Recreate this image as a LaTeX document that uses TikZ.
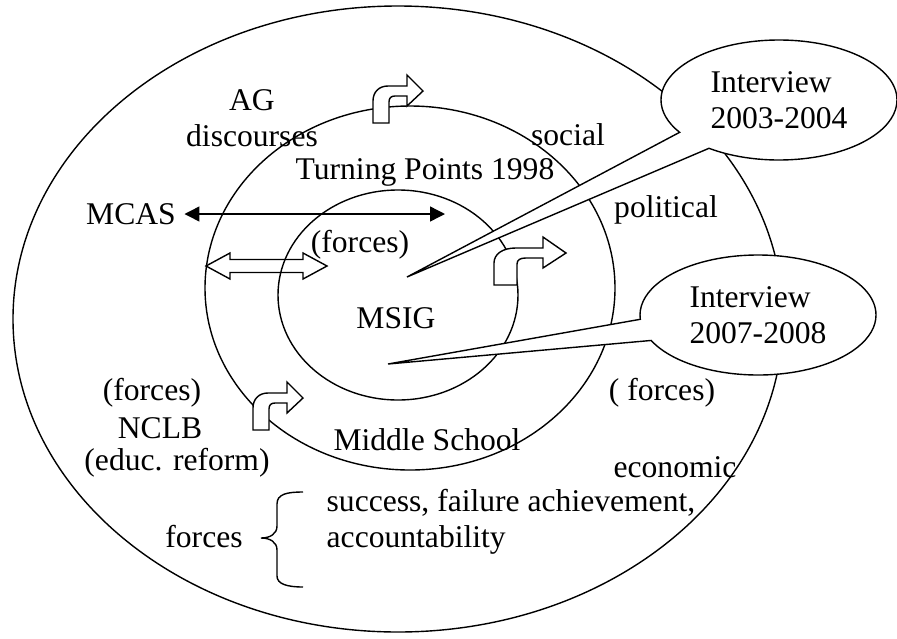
\documentclass[tikz,border=0pt]{standalone}
\usepackage{fontspec}
\setmainfont{Liberation Serif}
\usetikzlibrary{shapes.callouts, arrows.meta}

\begin{document}
\begin{tikzpicture}[
    x=1pt, y=-1pt,
    line width=1.4pt,
    every node/.style={font=\fontsize{31.6}{36}\selectfont, inner sep=0pt},
    bubble/.style={ellipse callout, draw, fill=white, callout pointer arc=21, minimum width=236pt, minimum height=120pt, align=left},
    blacktip/.style={{Triangle[length=15pt,width=15pt]}-{Triangle[length=15pt,width=15pt]}},
    bentarrow/.pic={
        \draw[fill=white, line join=miter] (0,0) -- (0,-22) .. controls (0,-31) and (6,-37) .. (15,-37) -- (34,-37) -- (34,-48) -- (50,-32) -- (34,-17) -- (34,-27) -- (22,-27) .. controls (18,-27) and (16,-25) .. (16,-21) -- (16,0) -- cycle;
    }
]
\useasboundingbox (0,0) rectangle (897,638);

% rings
\draw (398,319) ellipse [x radius=385, y radius=313];
\draw (410,288) ellipse [x radius=205, y radius=182];
\draw (398,295) ellipse [x radius=120, y radius=105];

% bent arrows
\pic at (373,123) {bentarrow};
\pic[xscale=1.44] at (494,285) {bentarrow};
\pic at (253,430) {bentarrow};

% double arrow
\draw[line join=miter] (206,266) -- (230,253) -- (230,259.5) -- (303,259.5) -- (303,253) -- (327,266) -- (303,279) -- (303,272.5) -- (230,272.5) -- (230,279) -- cycle;

% labels
\node[align=center] (ag) at (252,118) {AG\\discourses};
\node (social) at (568,135) {social};
\node (turning) at (425,172) {Turning Points 1998};
\node (mcas) at (131,214) {MCAS};
\node (political) at (666,210) {political};
\node (forcesin) at (360,245) {(forces)};
\node (msig) at (396,318) {MSIG};
\node (forcesright) at (662,393) {( forces)};
\node (forcesleft) at (152,393) {(forces)};
\node (nclb) at (160,428) {NCLB};
\node (reform) at (177,463) {(educ. reform)};
\node (school) at (427,440) {Middle School};
\node (economic) at (675,467) {economic};
\node[anchor=west, align=left] (success) at (326,522) {success, failure achievement,\\accountability};
\node (forces) at (204,537) {forces};

% MCAS arrow
\coordinate (mcasend) at (445,214);
\draw[blacktip] ([xshift=8pt]mcas.east) -- (mcasend);

% brace
\draw (303,492) .. controls (287,492) and (277,494) .. (277,504) -- (277,526) .. controls (277,534) and (270,538) .. (261,538) .. controls (270,538) and (277,542) .. (277,550) -- (277,576) .. controls (277,584) and (287,587) .. (303,587);

% interviews
\node[bubble, callout absolute pointer={(407,277)}] (iv1) at (779,100) {Interview\\2003-2004};
\node[bubble, callout absolute pointer={(388,364)}] (iv2) at (758,315) {Interview\\2007-2008};

\end{tikzpicture}
\end{document}
